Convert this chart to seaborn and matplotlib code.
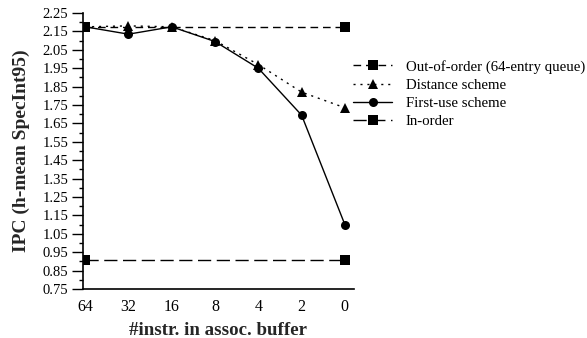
import matplotlib
matplotlib.use("Agg")
import matplotlib.pyplot as plt
import seaborn as sns
import pandas as pd
import numpy as np
from matplotlib.ticker import FixedLocator

sns.set_theme(style="ticks")
plt.rcParams['font.family'] = ['Liberation Serif', 'DejaVu Serif']

categories = ["64", "32", "16", "8", "4", "2", "0"]
ooo_x = ["64", "0"]
ooo_y = [2.175, 2.175]
distance_y = [2.175, 2.18, 2.175, 2.10, 1.97, 1.82, 1.735]
firstuse_y = [2.175, 2.135, 2.175, 2.095, 1.95, 1.695, 1.10]
inorder_x = ["64", "0"]
inorder_y = [0.905, 0.905]

pos = {c: i for i, c in enumerate(categories)}

fig = plt.figure(figsize=(5.87, 3.38), dpi=100)
ax = fig.add_axes([0.1414, 0.145, 0.603 - 0.1414, 0.9615 - 0.145])

ms = 6.5
sns.lineplot(x=[pos[c] for c in ooo_x], y=ooo_y, ax=ax, color='black', lw=1.0,
             marker='s', markersize=ms, markeredgewidth=0,
             linestyle=(0, (5.5, 3.5)), label='Out-of-order (64-entry queue)')
sns.lineplot(x=[pos[c] for c in categories], y=distance_y, ax=ax, color='black', lw=1.0,
             marker='^', markersize=ms, markeredgewidth=0,
             linestyle=(0, (1.5, 3.5)), label='Distance scheme')
sns.lineplot(x=[pos[c] for c in categories], y=firstuse_y, ax=ax, color='black', lw=1.0,
             marker='o', markersize=ms, markeredgewidth=0,
             linestyle='-', label='First-use scheme')
sns.lineplot(x=[pos[c] for c in inorder_x], y=inorder_y, ax=ax, color='black', lw=1.0,
             marker='s', markersize=ms, markeredgewidth=0,
             linestyle=(0, (9.5, 4)), label='In-order')

ax.set_xlim(-0.05, 6.21)
ax.set_ylim(0.75, 2.25)
ax.set_xticks(range(len(categories)))
ax.set_xticklabels(categories)
majors = np.round(np.arange(0.75, 2.26, 0.1), 2)
ax.yaxis.set_major_locator(FixedLocator(majors))
ax.yaxis.set_minor_locator(FixedLocator(np.round(np.arange(0.80, 2.25, 0.1), 2)))
ax.set_yticklabels([f"{v:.2f}" for v in majors])
ax.tick_params(axis='y', which='major', length=8, width=1, direction='out', labelsize=10.5, pad=2.5, colors='black')
ax.tick_params(axis='y', which='minor', length=3, width=1, direction='out', colors='black')
ax.tick_params(axis='x', length=0, labelsize=11.5, pad=7, colors='black')
for s in ['top', 'right']:
    ax.spines[s].set_visible(False)
for s in ['left', 'bottom']:
    ax.spines[s].set_color('black')
    ax.spines[s].set_linewidth(1.2)

ax.set_xlabel('#instr. in assoc. buffer', fontsize=13.6, fontweight='bold', labelpad=5)
ax.set_ylabel('IPC (h-mean SpecInt95)', fontsize=14, fontweight='bold', labelpad=9)

leg = ax.legend(loc='upper left', bbox_to_anchor=(0.601, 0.823), bbox_transform=fig.transFigure,
                frameon=False, fontsize=10.7, handlelength=2.67, handletextpad=0.9,
                labelspacing=0.31, borderaxespad=0, borderpad=0)
for t in leg.get_texts():
    t.set_color('black')

fig.savefig('out.png', dpi=100)
